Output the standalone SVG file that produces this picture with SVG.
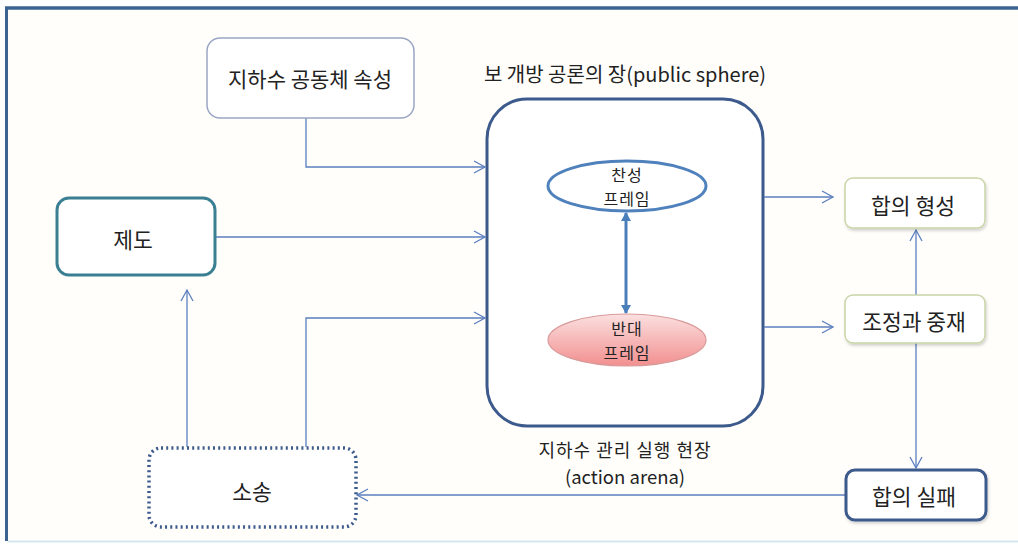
<svg xmlns="http://www.w3.org/2000/svg" width="1018" height="546" viewBox="0 0 1018 546">
<defs>
<marker id="open" markerWidth="14" markerHeight="14" refX="12" refY="7" orient="auto" markerUnits="userSpaceOnUse">
<path d="M1,1 L12,7 L1,13" fill="none" stroke="#5b7fbf" stroke-width="1.3"/>
</marker>
<marker id="solid" markerWidth="10" markerHeight="10" refX="8" refY="5" orient="auto-start-reverse" markerUnits="userSpaceOnUse">
<path d="M0,0 L9,5 L0,10 Z" fill="#4a7ebb"/>
</marker>
<linearGradient id="pink" x1="0" y1="0" x2="0" y2="1">
<stop offset="0" stop-color="#fbe0e0"/>
<stop offset="1" stop-color="#f28f8f"/>
</linearGradient>
<filter id="sh" x="-10%" y="-10%" width="130%" height="140%">
<feDropShadow dx="1" dy="2" stdDeviation="1.5" flood-color="#000" flood-opacity="0.18"/>
</filter>
</defs>
<style>
text{font-family:"Noto Sans CJK KR","Liberation Sans",sans-serif;fill:#222;text-anchor:middle;dominant-baseline:central}
.conn{fill:none;stroke:#5b7fbf;stroke-width:1.3}
.lbl{font-size:21px}
.box{font-size:21.5px}
.frm{font-size:16px;letter-spacing:1px}
.cap{font-size:20px}
.cap2{font-size:18px;letter-spacing:1px}
.cap3{font-size:18.5px}
</style>
<rect x="0" y="0" width="1018" height="546" fill="#ffffff"/>
<rect x="7" y="9" width="1020" height="532" fill="#fffefb"/>
<line x1="5" y1="8" x2="1018" y2="8" stroke="#3b6590" stroke-width="3.5"/>
<line x1="6.5" y1="7" x2="6.5" y2="541" stroke="#3b6590" stroke-width="3"/>
<line x1="8" y1="541.5" x2="1018" y2="541.5" stroke="#d4e6f0" stroke-width="2"/>

<g id="arena">
<text class="cap" x="625" y="73">보 개방 공론의 장(public sphere)</text>
<rect x="487" y="99" width="276" height="327" rx="40" fill="#fff" stroke="#3d5a8c" stroke-width="3"/>
<text class="cap2" x="625" y="449">지하수 관리 실행 현장</text>
<text class="cap3" x="625" y="476">(action arena)</text>
</g>

<g id="connectors">
<polyline class="conn" points="306,118 306,167 485,167" marker-end="url(#open)"/>
<line class="conn" x1="215" y1="237" x2="485" y2="237" marker-end="url(#open)"/>
<polyline class="conn" points="306,447 306,318 485,318" marker-end="url(#open)"/>
<line class="conn" x1="187" y1="447" x2="187" y2="290" marker-end="url(#open)"/>
<line class="conn" x1="764" y1="197" x2="833" y2="197" marker-end="url(#open)"/>
<line class="conn" x1="764" y1="327" x2="833" y2="327" marker-end="url(#open)"/>
<line class="conn" x1="916" y1="295" x2="916" y2="230" marker-end="url(#open)"/>
<line class="conn" x1="916" y1="343" x2="916" y2="468" marker-end="url(#open)"/>
<line class="conn" x1="845" y1="495" x2="357" y2="495" marker-end="url(#open)"/>
<line x1="626" y1="213" x2="626" y2="313" stroke="#4a7ebb" stroke-width="3" marker-start="url(#solid)" marker-end="url(#solid)"/>
</g>

<g id="attr">
<rect x="207" y="38" width="207" height="80" rx="13" fill="#fff" stroke="#9aa6c4" stroke-width="1.5"/>
<text class="lbl" x="310" y="78">지하수 공동체 속성</text>
</g>

<g id="institution">
<rect x="57" y="198" width="158" height="77" rx="12" fill="#fff" stroke="#3a7f92" stroke-width="3"/>
<text class="box" x="133" y="238">제도</text>
</g>

<g id="pro">
<ellipse cx="627" cy="186" rx="79" ry="25" fill="#fff" stroke="#4f81bd" stroke-width="3"/>
<text class="frm" x="627" y="174">찬성</text>
<text class="frm" x="627" y="198">프레임</text>
</g>

<g id="con">
<ellipse cx="627" cy="340" rx="79" ry="26" fill="url(#pink)" stroke="#d99a9a" stroke-width="1.2"/>
<text class="frm" x="627" y="328">반대</text>
<text class="frm" x="627" y="352">프레임</text>
</g>

<g id="consensus">
<rect x="845" y="178" width="140" height="50" rx="8" fill="#fff" stroke="#c9d5a8" stroke-width="1.5" filter="url(#sh)"/>
<text class="box" x="913" y="204">합의 형성</text>
</g>

<g id="mediation">
<rect x="845" y="295" width="140" height="48" rx="8" fill="#fff" stroke="#c9d5a8" stroke-width="1.5" filter="url(#sh)"/>
<text class="box" x="914" y="320">조정과 중재</text>
</g>

<g id="failure">
<rect x="846" y="470" width="140" height="50" rx="9" fill="#fff" stroke="#3d5a8c" stroke-width="3" filter="url(#sh)"/>
<text class="box" x="914" y="495">합의 실패</text>
</g>

<g id="lawsuit">
<rect x="149" y="448" width="207" height="79" rx="12" fill="#fff" stroke="#3d5a8c" stroke-width="3.5" stroke-dasharray="2 3.2"/>
<text class="box" x="252" y="490">소송</text>
</g>
</svg>
